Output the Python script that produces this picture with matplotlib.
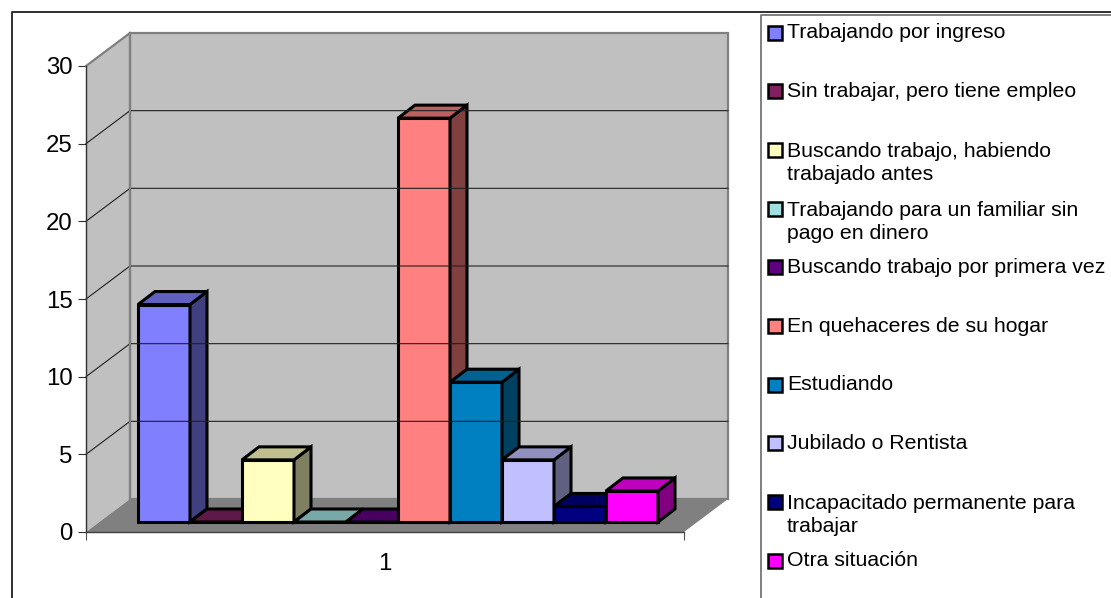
import matplotlib
matplotlib.use('Agg')
import matplotlib.pyplot as plt
from matplotlib.colors import to_rgb
from matplotlib.patches import Polygon, Rectangle

plt.rcParams['font.family'] = ['Liberation Sans', 'DejaVu Sans']

labels = ['Trabajando por ingreso', 'Sin trabajar, pero tiene empleo',
          'Buscando trabajo, habiendo\ntrabajado antes',
          'Trabajando para un familiar sin\npago en dinero',
          'Buscando trabajo por primera vez', 'En quehaceres de su hogar',
          'Estudiando', 'Jubilado o Rentista',
          'Incapacitado permanente para\ntrabajar', 'Otra situación']
values = [14, 0, 4, 0, 0, 26, 9, 4, 1, 2]
colors = ['#8080FF', '#802060', '#FFFFC0', '#A0E0E0', '#600080',
          '#FF8080', '#0080C0', '#C0C0FF', '#000080', '#FF00FF']
y_ticks = [0, 5, 10, 15, 20, 25, 30]
category = '1'

W, H = 1111, 598
x_max = 11.5
y_max = 30
wall_dx, wall_dy = 44 / 52, 33 / 15.533   # depth of the walls
bar_dx, bar_dy = 17 / 52, 13 / 15.533     # depth of a bar
base_y = 10 / 15.533                      # bars stand a bit back on the floor


def shade(color, f):
    return tuple(c * f for c in to_rgb(color))


fig = plt.figure(figsize=(W / 100, H / 100), dpi=100)

# frame and legend, in pixels
bg = fig.add_axes([0, 0, 1, 1])
bg.set_xlim(0, W)
bg.set_ylim(H, 0)
bg.axis('off')
bg.plot([12, 12, W], [H, 11.5, 11.5], color='#202020', lw=1.3)
bg.plot([760.5, 760.5, W], [H, 14.5, 14.5], color='#808080', lw=1.4)

for i, (name, c) in enumerate(zip(labels, colors)):
    yc = 32 + i * 58.7
    bg.add_patch(Rectangle((767.5, yc - 6.5), 14, 14, fc=c, ec='black', lw=1.8))
    # multi-line text sits on its last line, the swatch goes with the first
    bg.text(787, yc + 6 + name.count('\n') * 24.5, name, fontsize=15.33,
            va='baseline', ha='left', linespacing=1.27, color='black')

# plot area: data x in bar widths, data y in chart values
ax = fig.add_axes([86 / W, 1 - 532 / H, 598 / W, 466 / H])
ax.patch.set_visible(False)
ax.set_xlim(0, x_max)
ax.set_ylim(0, y_max)
for s in ax.spines.values():
    s.set_visible(False)


def poly(pts, **kw):
    ax.add_patch(Polygon(pts, closed=True, clip_on=False, **kw))


# walls and floor
poly([(0, 0), (wall_dx, wall_dy), (wall_dx, y_max + wall_dy), (0, y_max)],
     fc='#C0C0C0', ec='none')
poly([(wall_dx, wall_dy), (x_max + wall_dx, wall_dy),
      (x_max + wall_dx, y_max + wall_dy), (wall_dx, y_max + wall_dy)],
     fc='#C0C0C0', ec='#808080', lw=1.6)
poly([(0, 0), (x_max, 0), (x_max + wall_dx, wall_dy), (wall_dx, wall_dy)],
     fc='#808080', ec='none')

for t in y_ticks[1:-1]:
    ax.plot([0, wall_dx, x_max + wall_dx], [t, t + wall_dy, t + wall_dy],
            color='#202020', lw=0.8, clip_on=False)
ax.plot([0, wall_dx], [y_max, y_max + wall_dy], color='#808080', lw=1.6, clip_on=False)
ax.plot([wall_dx, wall_dx], [wall_dy, y_max + wall_dy], color='#808080', lw=1.6, clip_on=False)
ax.plot([0, 0], [0, y_max], color='#303030', lw=1, clip_on=False)
ax.plot([0, x_max], [0, 0], color='#404040', lw=1, clip_on=False)

# bars, left to right so each one covers the side of the one before
for i, (v, c) in enumerate(zip(values, colors)):
    x0, x1 = i + 1, i + 2
    y0, y1 = base_y, base_y + v
    style = dict(ec='black', lw=2.2, joinstyle='miter')
    poly([(x0, y0), (x1, y0), (x1, y1), (x0, y1)], fc=c, **style)
    poly([(x1, y0), (x1 + bar_dx, y0 + bar_dy), (x1 + bar_dx, y1 + bar_dy), (x1, y1)],
         fc=shade(c, 0.5), **style)
    poly([(x0, y1), (x1, y1), (x1 + bar_dx, y1 + bar_dy), (x0 + bar_dx, y1 + bar_dy)],
         fc=shade(c, 0.75), **style)

ax.set_yticks(y_ticks)
ax.tick_params(axis='y', length=6, width=0.8, pad=3.5, labelsize=17.3, color='#303030')
ax.set_xticks([x_max / 2], [category])
ax.set_xticks([0, x_max], minor=True)
ax.tick_params(axis='x', which='major', length=0, pad=15, labelsize=17.3)
ax.tick_params(axis='x', which='minor', length=6, width=0.8, color='#505050')

fig.savefig('out.png', dpi=100)
